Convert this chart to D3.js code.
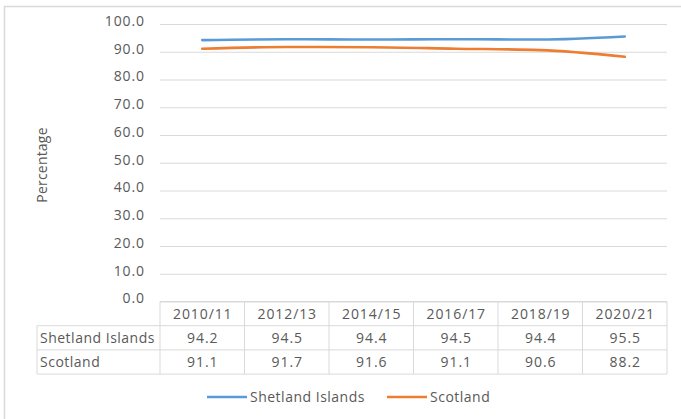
<!DOCTYPE html>
<html><head><meta charset="utf-8">
<script src="https://cdn.jsdelivr.net/npm/d3@7"></script>
<style>body{margin:0;background:#fff}svg{display:block}</style>
</head><body>
<script>
const categories = ["2010/11","2012/13","2014/15","2016/17","2018/19","2020/21"];
const shetland = [94.2,94.5,94.4,94.5,94.4,95.5];
const scotland = [91.1,91.7,91.6,91.1,90.6,88.2];
const seriesNames = ["Shetland Islands","Scotland"];
const yTicks = [0,10,20,30,40,50,60,70,80,90,100];
const colors = ["#5B9BD5","#ED7D31"];
const series = [shetland, scotland];

(function(){
const W=681,H=419;
const font = "'Open Sans', sans-serif";
const txt = "#595959";
const numLS = "0.9px", txtLS = "0.5px", fs = "14px";
const svg = d3.select("body").append("svg").attr("width",W).attr("height",H);
svg.append("rect").attr("x",4.5).attr("y",6.5).attr("width",W+10).attr("height",H+10)
  .attr("fill","#fff").attr("stroke","#d9d9d9").attr("stroke-width",1.5);

const pLeft=160,pRight=667,pTop=24,pBottom=301.5;
const x = d3.scaleBand().domain(categories).range([pLeft,pRight]);
const y = d3.scaleLinear().domain([0,100]).range([pBottom,pTop]);

const yAxis = d3.axisLeft(y).tickValues(yTicks).tickFormat(d3.format(".1f")).tickSize(-(pRight-pLeft)).tickPadding(15);
const ga = svg.append("g").attr("transform",`translate(${pLeft},0)`).call(yAxis);
ga.select(".domain").remove();
ga.selectAll(".tick line").attr("stroke","#d9d9d9").attr("stroke-width",1);
ga.selectAll(".tick text").attr("fill",txt).style("font-family",font).style("font-size",fs)
  .style("letter-spacing",numLS).attr("dy","0.1em");

svg.append("text").attr("transform","translate(47,165) rotate(-90)").attr("text-anchor","middle")
  .attr("fill",txt).style("font-family",font).style("font-size",fs).style("letter-spacing","0.2px").text("Percentage");

const line = d3.line().x((d,i)=>x(categories[i])+x.bandwidth()/2).y(d=>y(d)).curve(d3.curveMonotoneX);
series.forEach((s,k)=>{
  svg.append("path").datum(s).attr("d",line).attr("fill","none").attr("stroke",colors[k])
    .attr("stroke-width",2.6).attr("stroke-linecap","round");
});

const rowTop = pBottom, rowH = 24.2, labelX = 37;
const gc = "#d9d9d9";
const tg = svg.append("g");
tg.append("line").attr("x1",pLeft).attr("x2",pRight).attr("y1",rowTop).attr("y2",rowTop).attr("stroke",gc);
for(let r=1;r<=3;r++){
  tg.append("line").attr("x1",labelX).attr("x2",pRight).attr("y1",rowTop+r*rowH).attr("y2",rowTop+r*rowH).attr("stroke",gc);
}
tg.append("line").attr("x1",labelX).attr("x2",labelX).attr("y1",rowTop+rowH).attr("y2",rowTop+3*rowH).attr("stroke",gc);
categories.forEach(c=>{
  tg.append("line").attr("x1",x(c)).attr("x2",x(c)).attr("y1",rowTop).attr("y2",rowTop+3*rowH).attr("stroke",gc);
});
tg.append("line").attr("x1",pRight).attr("x2",pRight).attr("y1",rowTop).attr("y2",rowTop+3*rowH).attr("stroke",gc);
const tstyle = s=>s.attr("fill",txt).style("font-family",font).style("font-size",fs);
categories.forEach(c=>{
  tg.append("text").attr("x",x(c)+x.bandwidth()/2+0.5).attr("y",rowTop+rowH/2).attr("dy","0.35em").attr("text-anchor","middle")
    .call(tstyle).style("letter-spacing",numLS).text(c);
});
series.forEach((s,k)=>{
  const yy = rowTop+(k+1)*rowH+rowH/2;
  tg.append("text").attr("x",labelX+3).attr("y",yy).attr("dy","0.35em").call(tstyle).style("letter-spacing",txtLS).text(seriesNames[k]);
  s.forEach((v,i)=>{
    tg.append("text").attr("x",x(categories[i])+x.bandwidth()/2+0.5).attr("y",yy).attr("dy","0.35em").attr("text-anchor","middle")
      .call(tstyle).style("letter-spacing",numLS).text(d3.format(".1f")(v));
  });
});

const legX=[207,387], legY=397;
seriesNames.forEach((n,k)=>{
  svg.append("line").attr("x1",legX[k]).attr("x2",legX[k]+40).attr("y1",legY).attr("y2",legY).attr("stroke",colors[k]).attr("stroke-width",2.6);
  svg.append("text").attr("x",legX[k]+43).attr("y",legY).attr("dy","0.35em").call(tstyle).style("letter-spacing",txtLS).text(n);
});
})();
</script>
</body></html>
